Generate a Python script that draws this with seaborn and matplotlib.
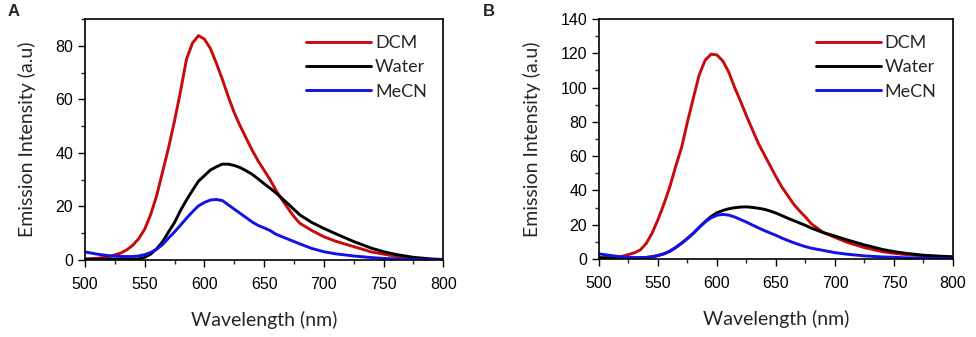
import numpy as np
import pandas as pd
import matplotlib
matplotlib.use("Agg")
import matplotlib.pyplot as plt
import seaborn as sns
from matplotlib.ticker import MultipleLocator

# ---- wavelength grid (nm) shared by both panels ----
wavelength = [500, 510, 520, 530, 535, 540, 545, 550, 555, 560, 565, 570, 575, 580, 585,
              590, 595, 600, 605, 610, 615, 620, 625, 630, 635, 640, 645, 650, 655, 660,
              665, 670, 675, 680, 690, 700, 710, 725, 740, 750, 760, 775, 790, 800]

# ---- Panel A ----
dcm_a = [0.3, 0.6, 1.2, 2.6, 3.8, 5.5, 8.0, 11.5, 17, 24, 33, 42, 52, 63, 75,
         81, 83.8, 82.5, 79, 73.5, 67.5, 61, 55, 50, 45.5, 41, 37, 33.5, 30, 26,
         22.5, 19.3, 16.2, 13.7, 11, 8.7, 7, 5, 3, 2.2, 1.4, 0.6, 0.2, 0.1]
water_a = [0.3, 0.3, 0.3, 0.3, 0.3, 0.3, 0.4, 1.0, 2.2, 4.2, 6.8, 10.5, 14, 18.5, 22.4,
           26, 29.4, 31.5, 33.6, 34.8, 35.8, 35.8, 35.3, 34.5, 33.3, 32, 30.3, 28.5, 26.8, 25,
           23, 21, 18.9, 16.8, 14, 11.8, 9.8, 6.9, 4.4, 3.1, 2.1, 1.0, 0.4, 0.2]
mecn_a = [3.0, 2.2, 1.6, 1.3, 1.3, 1.3, 1.5, 2.0, 2.8, 4.0, 5.8, 8.2, 10.5, 13, 15.6,
          18, 20.2, 21.5, 22.4, 22.6, 22.2, 20.6, 19, 17.4, 15.8, 14.2, 12.9, 12, 11, 9.6,
          8.7, 7.8, 6.9, 6.0, 4.3, 3.1, 2.3, 1.5, 0.9, 0.6, 0.4, 0.2, 0.1, 0.05]

# ---- Panel B ----
dcm_b = [0.5, 0.6, 1.6, 3.6, 5.3, 9.0, 15, 23, 32, 42, 54, 65, 80, 94, 107.5,
         116, 119.5, 119, 115.5, 109, 100, 92, 83.5, 75.5, 67.5, 61, 54.5, 48, 42, 37,
         32, 28, 24.5, 20.5, 15.5, 12.6, 9.8, 6.6, 4.3, 3.3, 2.6, 1.8, 1.2, 1.0]
water_b = [0.8, 0.6, 0.6, 0.6, 0.7, 0.9, 1.3, 2.0, 3.0, 4.5, 6.7, 9.2, 12, 15, 18.5,
           21.8, 24.8, 27, 28.3, 29.3, 29.9, 30.3, 30.4, 30.1, 29.6, 29, 28, 26.8, 25.3, 23.8,
           22.4, 21, 19.6, 18.0, 15.4, 13.4, 11.2, 8.2, 5.6, 4.3, 3.3, 2.2, 1.6, 1.3]
mecn_b = [3.0, 2.0, 1.2, 0.8, 0.8, 0.9, 1.3, 2.0, 3.0, 4.5, 6.7, 9.2, 12, 15, 18.5,
          21.6, 24, 25.5, 26, 25.6, 24.5, 23, 21.5, 19.8, 18.2, 16.6, 15.2, 13.8, 12.2, 10.8,
          9.5, 8.3, 7.2, 6.3, 5.0, 3.7, 2.8, 1.8, 1.2, 1.0, 0.7, 0.4, 0.2, 0.1]

series = ["DCM", "Water", "MeCN"]
colors = {"DCM": "#c80a0a", "Water": "#000000", "MeCN": "#1212e8"}

def to_df(dcm, water, mecn):
    frames = []
    for name, vals in zip(series, [dcm, water, mecn]):
        frames.append(pd.DataFrame({"Wavelength": wavelength, "Intensity": vals, "Solvent": name}))
    return pd.concat(frames, ignore_index=True)

df_a = to_df(dcm_a, water_a, mecn_a)
df_b = to_df(dcm_b, water_b, mecn_b)

sns.set_style("ticks")
plt.rcParams["font.family"] = ["Liberation Sans", "DejaVu Sans"]

fig = plt.figure(figsize=(9.76, 3.37), dpi=100)
ax_a = fig.add_axes([0.0871, 0.2285, 0.367, 0.7151])
ax_b = fig.add_axes([0.6137, 0.2315, 0.3627, 0.7121])

label_font = dict(family=["Lato", "DejaVu Sans"], size=14)

for ax, df, ymax in [(ax_a, df_a, 90), (ax_b, df_b, 140)]:
    sns.lineplot(data=df, x="Wavelength", y="Intensity", hue="Solvent",
                 palette=colors, hue_order=series, linewidth=2.1, ax=ax)
    ax.set_xlim(500, 800)
    ax.set_ylim(0, ymax)
    ax.xaxis.set_major_locator(MultipleLocator(50))
    ax.xaxis.set_minor_locator(MultipleLocator(25))
    ax.yaxis.set_major_locator(MultipleLocator(20))
    ax.yaxis.set_minor_locator(MultipleLocator(10))
    ax.tick_params(which="major", direction="out", length=5, width=1.0, labelsize=11.5, colors="black")
    ax.tick_params(axis="x", which="major", pad=7)
    ax.tick_params(which="minor", direction="out", length=3, width=1.0)
    for sp in ax.spines.values():
        sp.set_visible(True)
        sp.set_linewidth(1.2)
        sp.set_color("black")
    ax.set_xlabel("Wavelength (nm)", fontdict=label_font, labelpad=14)
    ax.set_ylabel("Emission Intensity (a.u)", fontdict=label_font, labelpad=14)
    leg = ax.legend(loc="upper right", frameon=False, handlelength=3.6, handletextpad=0.2,
                    labelspacing=0.45, borderaxespad=0.5,
                    prop={"family": ["Lato", "DejaVu Sans"], "size": 13})
    for line in leg.get_lines():
        line.set_linewidth(2.1)

ax_b.set_yticks(range(0, 141, 20))
ax_b.set_ylim(0, 140)

fig.text(0.008, 0.965, "A", fontsize=12, fontweight="bold", ha="left", va="center")
fig.text(0.495, 0.965, "B", fontsize=12, fontweight="bold", ha="left", va="center")

fig.savefig("out.png", dpi=100)
